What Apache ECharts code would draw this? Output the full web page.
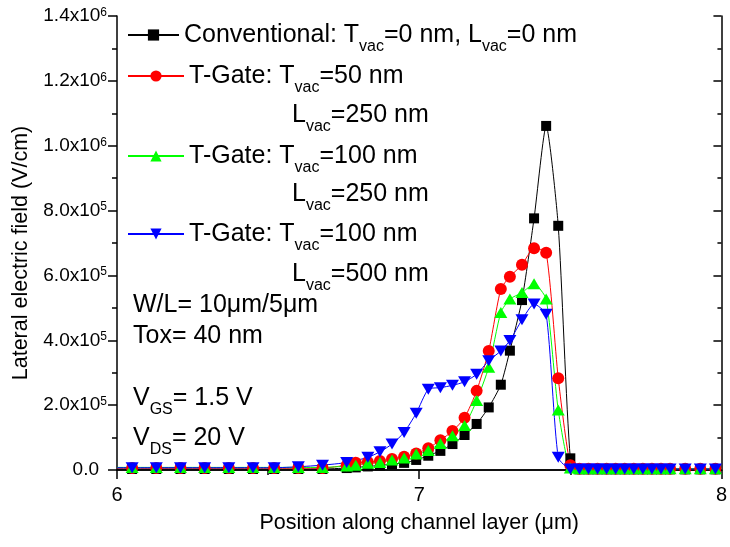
<!DOCTYPE html>
<html>
<head>
<meta charset="utf-8">
<script src="https://cdn.jsdelivr.net/npm/echarts@6/dist/echarts.min.js"></script>
<style>
html, body { margin: 0; padding: 0; background: #fff; }
#chart { width: 730px; height: 547px; }
</style>
</head>
<body>
<div id="chart"></div>
<script>
// position along channel (um), shared by all curves
var xPos = [6.00, 6.05, 6.13, 6.21, 6.29, 6.37, 6.45, 6.52, 6.60, 6.68,
    6.76, 6.79, 6.83, 6.87, 6.91, 6.95, 6.99, 7.03, 7.07, 7.11,
    7.15, 7.19, 7.23, 7.27, 7.30, 7.34, 7.38, 7.42, 7.46, 7.50,
    7.53, 7.56, 7.59, 7.62, 7.65, 7.68, 7.71, 7.74, 7.77, 7.80,
    7.83, 7.88, 7.93, 7.98, 8.00];

// lateral field (V/cm)
var convField = [3000, 3000, 3000, 3000, 3000, 3000, 3000, 3000, 3000, 3000,
    6000, 8000, 11000, 14000, 18000, 22000, 31000, 44000, 59000, 80000,
    108000, 142000, 193000, 263000, 368000, 524000, 776000, 1061000, 753000, 36000,
    2000, 2000, 2000, 2000, 2000, 2000, 2000, 2000, 2000, 2000,
    2000, 2000, 2000, 2000, 2000];
var tg50_250 = [6000, 6000, 6000, 6000, 6000, 6000, 6000, 6000, 6000, 6000,
    15000, 22000, 25000, 28000, 34000, 41000, 51000, 67000, 92000, 120000,
    161000, 244000, 367000, 558000, 596000, 633000, 684000, 670000, 283000, 15000,
    4000, 4000, 4000, 4000, 4000, 4000, 4000, 4000, 4000, 4000,
    4000, 4000, 4000, 4000, 4000];
var tg100_250 = [8000, 8000, 8000, 8000, 8000, 8000, 8000, 8000, 8000, 8000,
    12000, 15000, 21000, 23000, 31000, 37000, 49000, 60000, 82000, 106000,
    137000, 214000, 317000, 486000, 527000, 547000, 574000, 527000, 185000, 6000,
    4000, 4000, 4000, 4000, 4000, 4000, 4000, 4000, 4000, 4000,
    4000, 4000, 4000, 4000, 4000];
var tg100_500 = [7000, 7000, 7000, 7000, 7000, 7000, 7000, 7000, 10000, 15000,
    23000, null, 39000, 56000, 80000, 116000, 175000, 249000, 254000, 261000,
    272000, 295000, 337000, 367000, 399000, 463000, 512000, 480000, 39000, 3000,
    3000, 3000, 3000, 3000, 3000, 3000, 3000, 3000, 3000, 3000,
    3000, 3000, 3000, 3000, 3000];

var yTicks = ['0.0{pad| }', '2.0x10{sup|5}', '4.0x10{sup|5}', '6.0x10{sup|5}', '8.0x10{sup|5}',
    '1.0x10{sup|6}', '1.2x10{sup|6}', '1.4x10{sup|6}'];

var legendText = {
    'conv': 'Conventional: T{sub|vac}=0 nm, L{sub|vac}=0 nm',
    'tg1': 'T-Gate: T{sub|vac}=50 nm',
    'tg2': 'T-Gate: T{sub|vac}=100 nm',
    'tg3': 'T-Gate: T{sub|vac}=100 nm'
};

var FONT = 'Liberation Sans, Arial, sans-serif';
var subRich = { sub: { fontSize: 16, lineHeight: 12, verticalAlign: 'bottom', fontFamily: FONT, fill: '#000', color: '#000' } };

function pts(ys) {
    return xPos.map(function(x, i) {
        var p = { value: [x, ys[i]] };
        if (i === 0 || i === xPos.length - 1) p.symbol = 'none';
        return p;
    });
}

function mkSeries(name, ys, color, symbol, size, rotate) {
    return {
        name: name,
        type: 'line',
        data: pts(ys),
        connectNulls: true,
        symbol: symbol,
        symbolSize: size,
        symbolRotate: rotate || 0,
        showAllSymbol: true,
        smooth: 0.2,
        lineStyle: { color: color, width: 1 },
        itemStyle: { color: color },
        emphasis: { disabled: true }
    };
}

function mkLegend(name, top, w) {
    return {
        data: [name],
        left: 127,
        top: top,
        padding: 0,
        itemWidth: w,
        itemHeight: 14,
        selectedMode: false,
        formatter: function(n) { return legendText[n]; },
        textStyle: { fontSize: 25, lineHeight: 40, fontFamily: FONT, color: '#000', rich: subRich }
    };
}

function mkText(txt, left, top, lh) {
    return {
        type: 'text',
        left: left,
        top: top,
        style: { text: txt, fontSize: 25, lineHeight: lh, fontFamily: FONT, fill: '#000', rich: subRich }
    };
}

var axisLine = { show: true, lineStyle: { color: '#000', width: 1.5 } };

var chart = echarts.init(document.getElementById('chart'));
chart.setOption({
    animation: false,
    backgroundColor: '#fff',
    grid: { left: 117, right: 2, top: 16, bottom: 77 },
    legend: [
        mkLegend('conv', 15, 51),
        mkLegend('tg1', 56, 56),
        mkLegend('tg2', 136, 56),
        mkLegend('tg3', 214, 56)
    ],
    xAxis: [{
        type: 'value', min: 6, max: 8, interval: 1,
        name: 'Position along channel layer (\u03bcm)',
        nameLocation: 'middle', nameGap: 42,
        nameTextStyle: { fontSize: 21.5, fontFamily: FONT, color: '#000' },
        axisLine: axisLine,
        axisTick: { show: true, inside: false, length: 9, lineStyle: { color: '#000', width: 1.5 } },
        minorTick: { show: true, splitNumber: 2, length: 5, lineStyle: { color: '#000', width: 1.5 } },
        axisLabel: { fontSize: 20, fontFamily: FONT, color: '#000', margin: 15 },
        splitLine: { show: false }
    }, {
        type: 'value', min: 6, max: 8, interval: 1, position: 'top',
        axisLine: axisLine,
        axisTick: { show: true, inside: true, length: 8, lineStyle: { color: '#000', width: 1.5 } },
        minorTick: { show: true, splitNumber: 2, length: 4, lineStyle: { color: '#000', width: 1.5 } },
        axisLabel: { show: false },
        splitLine: { show: false }
    }],
    yAxis: [{
        type: 'value', min: 0, max: 1400000, interval: 200000,
        name: 'Lateral electric field (V/cm)',
        nameLocation: 'middle', nameGap: 81,
        nameTextStyle: { fontSize: 21.5, fontFamily: FONT, color: '#000', padding: [0, 20, 0, 0] },
        axisLine: axisLine,
        axisTick: { show: true, inside: false, length: 9, lineStyle: { color: '#000', width: 1.5 } },
        minorTick: { show: true, splitNumber: 2, length: 5, lineStyle: { color: '#000', width: 1.5 } },
        axisLabel: {
            fontSize: 19, fontFamily: FONT, color: '#000', margin: 10,
            formatter: function(v) { return yTicks[Math.round(v / 200000)]; },
            rich: {
                sup: { fontSize: 12, lineHeight: 10, verticalAlign: 'top', fontFamily: FONT, color: '#000' },
                pad: { fontSize: 12, width: 8 }
            }
        },
        splitLine: { show: false }
    }, {
        type: 'value', min: 0, max: 1400000, interval: 200000, position: 'right',
        axisLine: axisLine,
        axisTick: { show: true, inside: true, length: 8, lineStyle: { color: '#000', width: 1.5 } },
        minorTick: { show: true, splitNumber: 2, length: 4, lineStyle: { color: '#000', width: 1.5 } },
        axisLabel: { show: false },
        splitLine: { show: false }
    }],
    graphic: [
        mkText('L{sub|vac}=250 nm', 292, 95, 40),
        mkText('L{sub|vac}=250 nm', 292, 174, 40),
        mkText('L{sub|vac}=500 nm', 292, 254, 40),
        mkText('W/L= 10\u03bcm/5\u03bcm\nTox= 40 nm', 133, 290, 31),
        mkText('V{sub|GS}= 1.5 V\nV{sub|DS}= 20 V', 133, 378, 40)
    ],
    series: [
        mkSeries('conv', convField, '#000000', 'rect', 10),
        mkSeries('tg1', tg50_250, '#ff0000', 'circle', 12),
        mkSeries('tg2', tg100_250, '#00ff00', 'triangle', [13, 11]),
        mkSeries('tg3', tg100_500, '#0000ff', 'triangle', [13, 11], 180)
    ]
});
</script>
</body>
</html>
